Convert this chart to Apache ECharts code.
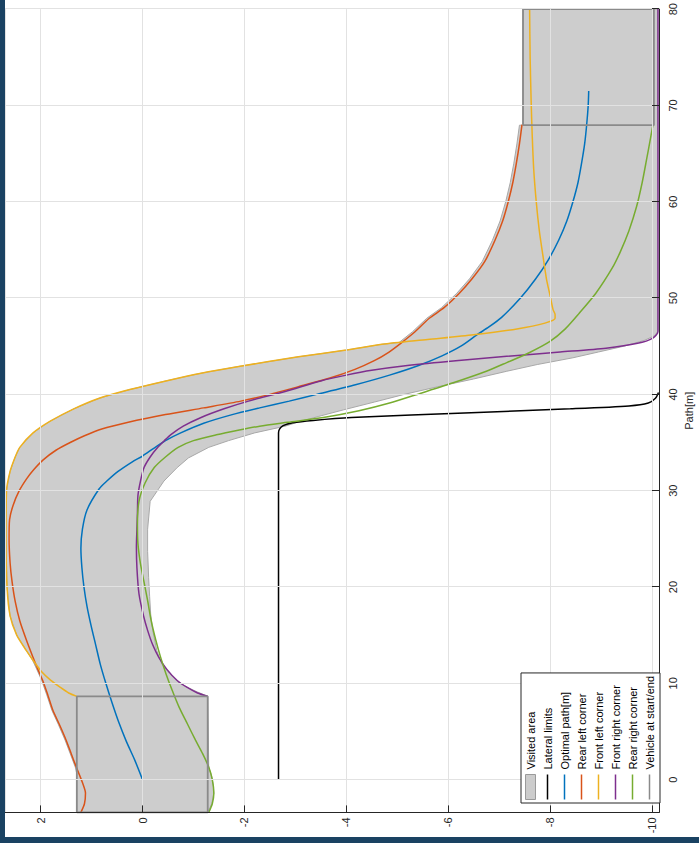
<!DOCTYPE html>
<html><head><meta charset="utf-8">
<script src="https://cdn.jsdelivr.net/npm/echarts@6/dist/echarts.min.js"></script>
<style>
html,body{margin:0;padding:0;width:699px;height:843px;overflow:hidden;background:#1a4262;}
#chart{position:absolute;left:5px;top:837px;width:837px;height:694px;transform-origin:0 0;transform:rotate(-90deg);background:#fff;}
</style></head><body><div id="chart"></div>
<script>
// Data: [path (m), lateral (m)]
const seriesNames = ['Visited area','Lateral limits','Optimal path[m]','Rear left corner','Front left corner','Front right corner','Rear right corner','Vehicle at start/end'];

const visitedArea = [
[-3.4,1.29],[0.6,1.29],[1.3,1.32],[2.7,1.42],[4.1,1.52],[5.7,1.65],[7.2,1.78],[8.8,1.88],[10.3,1.98],[11.5,2.08],[12.4,2.16],[13.4,2.28],[15,2.47],[17,2.6],[20,2.66],[25,2.68],[30,2.67],[32,2.6],[33.5,2.5],[34.5,2.41],[36,2.15],[37.2,1.82],[38.5,1.35],[39.6,0.85],[40.5,0.25],[41.4,-0.46],[42.2,-1.15],[42.9,-1.89],[43.9,-3.06],[44.6,-4.0],[45.2,-4.7],[45.4,-5.04],[46.5,-5.3],[47.9,-5.58],[49,-5.87],[50.5,-6.17],[52,-6.42],[53.8,-6.67],[56,-6.87],[58,-7.02],[60,-7.13],[62,-7.22],[64,-7.29],[66,-7.35],[67.95,-7.4],[67.95,-7.47],[80,-7.47],
[80,-10.12],[46.6,-10.12],[46.1,-10.06],[45.6,-9.85],[45.0,-9.45],[44.4,-8.95],[43.8,-8.45],[43.1,-7.75],[42.4,-7.15],[41.6,-6.5],[40.8,-5.8],[40.0,-5.14],[39.2,-4.55],[38.4,-3.95],[37.7,-3.45],[37.2,-3.1],[36.7,-2.8],[36.0,-2.2],[35.2,-1.69],[34.5,-1.3],[33.4,-0.9],[32.4,-0.68],[31,-0.42],[28.9,-0.15],[26,-0.1],[23.7,-0.1],[21,-0.12],[19,-0.14],[17.2,-0.16],[15.5,-0.2],[13.4,-0.28],[12,-0.38],[11,-0.53],[10.2,-0.7],[9.6,-0.87],[9.1,-1.08],[8.65,-1.28],[1.3,-1.3],[0.3,-1.36],[-0.6,-1.39],[-1.4,-1.4],[-2.5,-1.36],[-3.4,-1.28]
];

const lateralLimits = [[0,-2.67],[10,-2.67],[20,-2.67],[30,-2.67],[36.0,-2.67],[36.4,-2.69],[36.75,-2.76],[37.05,-2.95],[37.3,-3.35],[37.6,-4.1],[38.1,-6.45],[38.5,-8.4],[38.8,-9.55],[39.1,-9.93],[39.6,-10.07],[40.2,-10.13]];

const optimalPath = [[0,0],[2,0.15],[4,0.32],[6,0.47],[8,0.6],[10,0.72],[12,0.83],[14,0.92],[16,1.01],[18,1.09],[20,1.15],[22,1.19],[24,1.21],[26,1.18],[28,1.09],[30.2,0.85],[31,0.7],[32,0.48],[33,0.2],[33.6,0.0],[34.4,-0.22],[35.2,-0.45],[36,-0.75],[37,-1.2],[37.9,-1.76],[38.6,-2.3],[39.3,-2.88],[40,-3.42],[41,-4.18],[42,-4.85],[43,-5.42],[44,-5.88],[45,-6.25],[46.2,-6.57],[47,-6.8],[48,-7.05],[50,-7.42],[52,-7.72],[54,-7.97],[56,-8.17],[58,-8.33],[60,-8.45],[62,-8.55],[64,-8.62],[66,-8.68],[68,-8.72],[70,-8.75],[71.5,-8.76]];

const rearLeft = [[-3.4,1.21],[-2.5,1.14],[-1.4,1.12],[-0.3,1.18],[1.3,1.3],[2.7,1.4],[4.1,1.5],[5.7,1.63],[7.2,1.76],[8.8,1.86],[10.3,1.96],[11.5,2.06],[12.7,2.15],[14.5,2.28],[16.5,2.41],[18.5,2.5],[20.5,2.56],[22.5,2.6],[25,2.62],[27,2.61],[28.5,2.54],[30,2.42],[31.2,2.28],[32.1,2.15],[33.2,1.95],[34.2,1.7],[35.0,1.42],[35.7,1.14],[36.4,0.8],[37.1,0.28],[37.9,-0.45],[38.6,-1.2],[39.3,-1.93],[40.0,-2.5],[40.8,-3.06],[41.7,-3.68],[42.6,-4.17],[43.5,-4.55],[44.4,-4.84],[45.3,-5.07],[46.5,-5.35],[47.9,-5.63],[49,-5.92],[50.5,-6.22],[52,-6.47],[53.8,-6.72],[56,-6.92],[58,-7.07],[60,-7.18],[62,-7.27],[64,-7.34],[66,-7.4],[68,-7.45]];

const frontLeft = [[8.65,1.29],[9.0,1.45],[9.6,1.62],[10.3,1.8],[11.2,1.98],[12.4,2.15],[13.4,2.28],[15,2.47],[17,2.6],[20,2.66],[25,2.68],[30,2.67],[32,2.6],[33.5,2.5],[34.5,2.41],[36,2.15],[37.2,1.82],[38.5,1.35],[39.6,0.85],[40.5,0.25],[41.4,-0.46],[42.2,-1.15],[42.9,-1.89],[43.9,-3.06],[44.6,-4.0],[45.2,-4.7],[45.7,-5.6],[46.2,-6.5],[46.8,-7.35],[47.4,-7.9],[47.9,-8.1],[48.3,-8.1],[48.8,-8.06],[50.3,-8.0],[52,-7.93],[54.8,-7.85],[57,-7.79],[60,-7.73],[63.4,-7.68],[67,-7.65],[70.4,-7.63],[75,-7.61],[80,-7.6]];

const frontRight = [[8.65,-1.28],[9.0,-1.08],[9.6,-0.87],[10.3,-0.68],[11.5,-0.47],[12.7,-0.32],[14,-0.2],[15.5,-0.1],[17,-0.02],[19.3,0.07],[22,0.11],[24.1,0.12],[26,0.11],[27.6,0.1],[29.5,0.09],[31,0.04],[32.4,-0.03],[33.5,-0.15],[34.5,-0.3],[35.2,-0.43],[35.8,-0.55],[36.7,-0.8],[37.6,-1.15],[38.5,-1.6],[39.3,-2.08],[40.3,-2.8],[41.4,-3.5],[42.0,-4.0],[42.5,-4.5],[43.0,-5.2],[43.5,-6.15],[43.95,-7.15],[44.4,-8.2],[44.8,-9.1],[45.3,-9.72],[45.85,-10.02],[46.5,-10.12],[80,-10.12]];

const rearRight = [[-3.4,-1.3],[-2.5,-1.37],[-1.4,-1.4],[0,-1.37],[1.3,-1.3],[2.7,-1.18],[4.1,-1.04],[5.8,-0.88],[7.5,-0.72],[9.3,-0.58],[11,-0.46],[12.8,-0.35],[14.5,-0.26],[16.5,-0.17],[18.6,-0.1],[20.5,-0.03],[22.4,0.04],[24.5,0.09],[26.5,0.1],[28.9,0.07],[30.8,-0.05],[32.4,-0.23],[33.5,-0.45],[34.5,-0.7],[35.2,-1.0],[35.8,-1.45],[36.3,-1.9],[36.7,-2.3],[37.1,-2.85],[37.6,-3.55],[38.3,-4.25],[39.1,-4.85],[40.1,-5.45],[41.2,-6.1],[42.4,-6.75],[43.3,-7.15],[44.3,-7.58],[45.5,-8.0],[46.8,-8.3],[48.4,-8.57],[50.5,-8.9],[53.1,-9.22],[54.8,-9.38],[57,-9.55],[59.5,-9.7],[62,-9.81],[64.5,-9.9],[66.5,-9.97],[67.95,-10.02]];

const vehicleStart = [[-3.4,1.29],[8.65,1.29],[8.65,-1.28],[-3.4,-1.28],[-3.4,1.29]];
const vehicleEnd = [[67.95,-7.47],[80,-7.47],[80,-10.04],[67.95,-10.04],[67.95,-7.47]];

const pathRange = [-3.4, 80];
const lateralRange = [-10.14, 2.70];

const FONT = 'Liberation Sans, Arial, Helvetica, sans-serif';
const TXT = '#262626';
const LINE_ICON = 'path://M0,0L25,0L25,1.5L0,1.5Z';

function curve(name, data, color) {
  return {type:'line', name:name, data:data, showSymbol:false, symbol:'none',
    smooth:0.25, lineStyle:{color:color, width:1.5}, itemStyle:{color:color}, z:3};
}

const chart = echarts.init(document.getElementById('chart'), null, {renderer:'svg'});
chart.setOption({
  animation:false,
  backgroundColor:'#ffffff',
  textStyle:{fontFamily:FONT},
  grid:{left:24.6, right:6.8, top:0, bottom:36.4, containLabel:false},
  legend:{
    orient:'vertical', left:34, top:516, z:20,
    itemWidth:25, itemHeight:10, itemGap:6,
    padding:[4,3,5,3],
    borderColor:'#262626', borderWidth:1, backgroundColor:'#ffffff',
    textStyle:{fontSize:11, color:'#000', fontFamily:FONT, lineHeight:10},
    data:[
      {name:seriesNames[0], icon:'rect', itemStyle:{color:'#cccccc', borderColor:'#9a9a9a', borderWidth:1}},
      {name:seriesNames[1], icon:LINE_ICON},
      {name:seriesNames[2], icon:LINE_ICON},
      {name:seriesNames[3], icon:LINE_ICON},
      {name:seriesNames[4], icon:LINE_ICON},
      {name:seriesNames[5], icon:LINE_ICON},
      {name:seriesNames[6], icon:LINE_ICON},
      {name:seriesNames[7], icon:LINE_ICON}
    ]
  },
  xAxis:{
    type:'value', min:pathRange[0], max:pathRange[1], splitNumber:8, z:5,
    name:'Path[m]', nameLocation:'middle', nameGap:24,
    nameTextStyle:{fontSize:11, color:TXT, fontFamily:FONT},
    axisLine:{show:true, onZero:false, lineStyle:{color:TXT, width:1}},
    axisTick:{show:true, inside:true, length:7, lineStyle:{color:TXT}},
    axisLabel:{showMinLabel:false, fontSize:11, color:TXT, margin:8, fontFamily:FONT},
    splitLine:{show:true, lineStyle:{color:'#e2e2e2', width:1}}
  },
  yAxis:{
    type:'value', min:lateralRange[0], max:lateralRange[1], splitNumber:6, z:5,
    axisLine:{show:true, onZero:false, lineStyle:{color:TXT, width:1}},
    axisTick:{show:true, inside:true, length:7, lineStyle:{color:TXT}},
    axisLabel:{showMinLabel:false, showMaxLabel:false, fontSize:11, color:TXT, margin:5, fontFamily:FONT},
    splitLine:{show:true, lineStyle:{color:'#e2e2e2', width:1}}
  },
  series:[
    {type:'custom', name:seriesNames[0], data:visitedArea, encode:{x:0, y:1}, z:1, silent:true,
      itemStyle:{color:'#cccccc', borderColor:'#9a9a9a'},
      renderItem:function(params, api){
        if (params.dataIndex !== 0) return null;
        const pts = visitedArea.map(function(d){ return api.coord(d); });
        return {type:'polygon', shape:{points:pts}, style:{fill:'#cdcdcd', stroke:'#a8a8a8', lineWidth:1}};
      }},
    curve(seriesNames[1], lateralLimits, '#000000'),
    curve(seriesNames[2], optimalPath, '#0072BD'),
    curve(seriesNames[3], rearLeft, '#D95319'),
    curve(seriesNames[4], frontLeft, '#EDB120'),
    curve(seriesNames[5], frontRight, '#7E2F8E'),
    curve(seriesNames[6], rearRight, '#77AC30'),
    {type:'line', name:seriesNames[7], data:vehicleStart, showSymbol:false, symbol:'none', lineStyle:{color:'#8a8a8a', width:1.8}, itemStyle:{color:'#8a8a8a'}, z:4},
    {type:'line', name:seriesNames[7], data:vehicleEnd, showSymbol:false, symbol:'none', lineStyle:{color:'#8a8a8a', width:1.8}, itemStyle:{color:'#8a8a8a'}, z:4}
  ]
});
</script>
</body></html>
